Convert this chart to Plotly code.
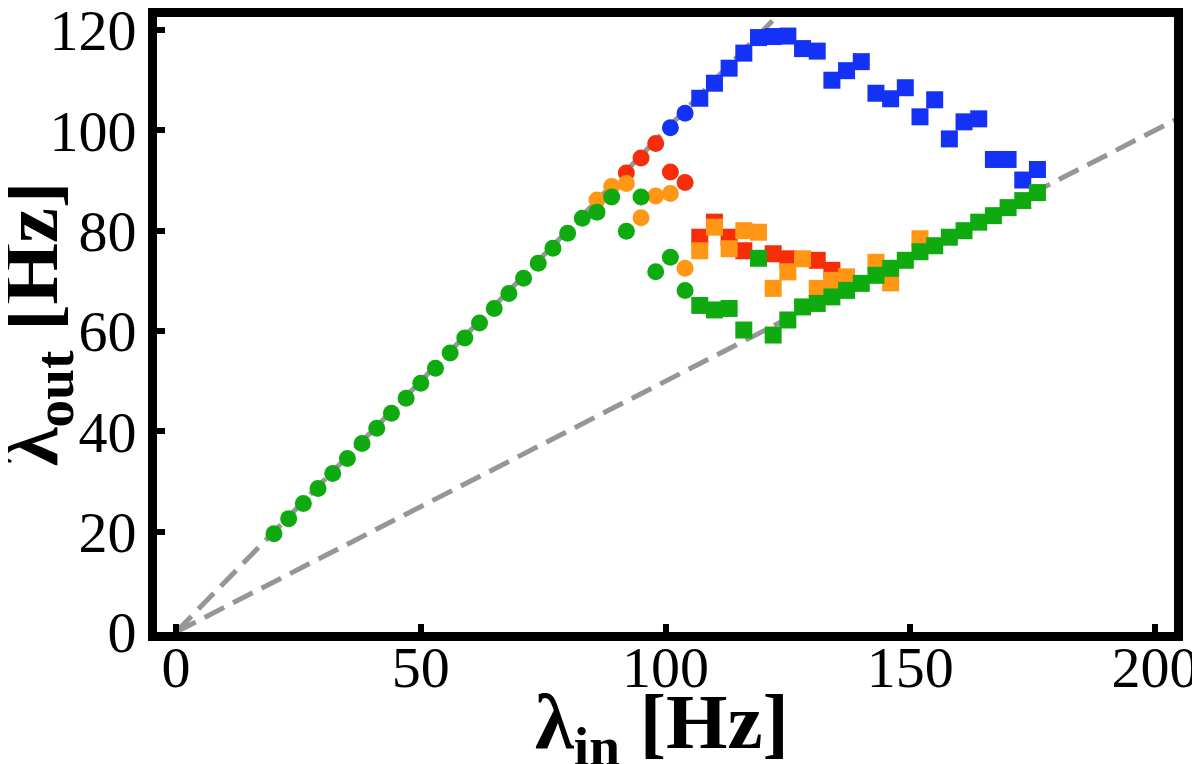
import plotly.graph_objects as go

# ---------------- data ----------------
green_x = [20, 23, 26, 29, 32, 35, 38, 41, 44, 47, 50, 53, 56, 59, 62, 65, 68, 71, 74, 77, 80, 83,
           86, 89, 92, 95, 98, 101, 104, 107, 110, 113, 116, 119, 122, 125, 128, 131, 134, 137,
           140, 143, 146, 149, 152, 155, 158, 161, 164, 167, 170, 173, 176]
green_y = [19.6, 22.6, 25.6, 28.6, 31.6, 34.6, 37.6, 40.6, 43.6, 46.6, 49.6, 52.6, 55.6, 58.6, 61.6,
           64.5, 67.5, 70.5, 73.5, 76.5, 79.5, 82.5,
           83.7, 86.7, 79.9, 86.7, 71.8, 74.7, 68.1, 65.1, 64.2, 64.5, 60.2, 74.5, 59.2, 62.2, 64.8,
           65.5, 66.8, 68.1, 69.5, 71.1, 72.5, 74.1, 75.8, 77.0, 78.7, 80.0, 81.7, 83.0, 84.6, 86.0, 87.6]

orange_x = [86, 89, 92, 95, 98, 101, 104, 107, 110, 113, 116, 119, 122, 125, 128, 131, 134, 137,
            143, 146, 152]
orange_y = [86.1, 88.8, 89.4, 82.6, 86.9, 87.4, 72.5, 76.0, 80.7, 76.4, 80.0, 79.7, 68.5, 71.8,
            74.4, 68.5, 70.1, 70.8, 73.7, 69.6, 78.4]

red_x = [92, 95, 98, 101, 104, 107, 110, 113, 116, 122, 125, 131, 134]
red_y = [91.5, 94.5, 97.4, 91.7, 89.6, 78.7, 81.7, 78.7, 76.0, 75.4, 74.4, 74.1, 72.1]

blue_x = [101, 104, 107, 110, 113, 116, 119, 122, 125, 128, 131, 134, 137, 140, 143, 146, 149,
          152, 155, 158, 161, 164, 167, 170, 173, 176]
blue_y = [100.5, 103.4, 106.4, 109.4, 112.4, 115.4, 118.5, 118.7, 118.8, 116.3, 115.8, 110.0,
          111.9, 113.7, 107.4, 106.3, 108.5, 102.7, 106.1, 98.3, 101.7, 102.3, 94.2, 94.2, 90.1, 92.2]

# reference lines: lambda_out = lambda_in and lambda_out = lambda_in / 2
ref1_x = [0, 130]
ref1_y = [0, 130]
ref2_x = [0, 210]
ref2_y = [0, 105]

x_ticks = [0, 50, 100, 150, 200]
y_ticks = [0, 20, 40, 60, 80, 100, 120]

# ---------------- styling ----------------
GRAY = "rgb(150,150,150)"
COLORS = {
    "blue": "rgb(20,50,245)",
    "red": "rgb(245,45,10)",
    "orange": "rgb(255,150,20)",
    "green": "rgb(15,170,15)",
}
SERIF = "Liberation Serif, DejaVu Serif, serif"


def symbols(xs):
    return ["circle" if x < 106 else "square" for x in xs]


fig = go.Figure()

for rx, ry in [(ref1_x, ref1_y), (ref2_x, ref2_y)]:
    fig.add_trace(go.Scatter(
        x=rx, y=ry, mode="lines",
        line=dict(color=GRAY, width=5, dash="22px,10px"),
        hoverinfo="skip", showlegend=False,
    ))

for name, xs, ys in [("blue", blue_x, blue_y), ("red", red_x, red_y),
                     ("orange", orange_x, orange_y), ("green", green_x, green_y)]:
    fig.add_trace(go.Scatter(
        x=xs, y=ys, mode="markers", name=name,
        marker=dict(color=COLORS[name], size=17, symbol=symbols(xs), line=dict(width=0)),
        showlegend=False,
    ))

axis_common = dict(
    showgrid=False, zeroline=False, automargin=False,
    showline=True, linecolor="black", linewidth=9, mirror=True,
    ticks="inside", ticklen=8, tickwidth=6, tickcolor="black",
    tickfont=dict(family=SERIF, size=58, color="black"),
    ticklabeloverflow="allow",
)

fig.update_xaxes(range=[-3.9, 203.9], tickvals=x_ticks, ticktext=[str(v) for v in x_ticks],
                 ticklabelstandoff=-24, **axis_common)
fig.update_yaxes(range=[0, 122.6], tickvals=y_ticks, ticktext=[str(v) for v in y_ticks],
                 **axis_common)

fig.add_annotation(
    text="<b>λ<sub>in</sub> [Hz]</b>", xref="paper", yref="paper",
    x=0.4966, y=-0.1545, xanchor="center", yanchor="middle", showarrow=False,
    font=dict(family=SERIF, size=79, color="black"),
)
fig.add_annotation(
    text="<b>λ<sub>out</sub> [Hz]</b>", xref="paper", yref="paper",
    x=-0.119, y=0.502, xanchor="center", yanchor="middle", showarrow=False, textangle=-90,
    font=dict(family=SERIF, size=79, color="black"),
)

fig.update_layout(
    width=1192, height=756,
    margin=dict(l=149, r=26, t=9, b=132),
    plot_bgcolor="white", paper_bgcolor="white",
)

fig.write_html("out.html")
